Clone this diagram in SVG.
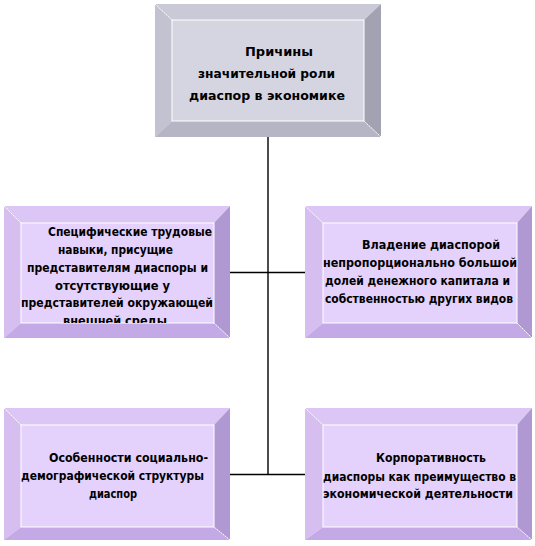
<svg xmlns="http://www.w3.org/2000/svg" width="535" height="546" viewBox="0 0 535 546">
<style>
  .t { font-family: "DejaVu Sans Condensed", "DejaVu Sans", sans-serif; font-weight: bold; font-size: 12px; fill: #000; }
  .tt { font-size: 13px; }
  .g-top .bt { fill: #c9c9d7; } .g-top .bl { fill: #c2c2d0; } .g-top .br { fill: #a2a2b2; } .g-top .bb { fill: #b5b5c5; } .g-top .face { fill: #d5d5e1; }
  .p .bt { fill: #dcc6f5; } .p .bl { fill: #d6bef0; } .p .br { fill: #b099d2; } .p .bb { fill: #c3a9e6; } .p .face { fill: #e4d1fc; }
  .face { stroke: #ffffff; stroke-width: 1; }
  .diag { stroke: #ffffff; stroke-width: 1; stroke-dasharray: 1.5 1; }
  .conn line { stroke: #000; stroke-width: 1.4; }
</style>
<defs>
  <clipPath id="clipL"><rect x="21" y="223" width="193" height="100"/></clipPath>
</defs>
<rect width="535" height="546" fill="#ffffff"/>

<g id="connectors" class="conn">
  <line x1="268" y1="137" x2="268" y2="475"/>
  <line x1="230" y1="272.5" x2="305" y2="272.5"/>
  <line x1="230" y1="474.5" x2="305" y2="474.5"/>
</g>

<g id="node-main" class="g-top">
  <polygon class="bt" points="155,4 381,4 364,20 172,20"/>
  <polygon class="bl" points="155,4 172,20 172,121 155,137"/>
  <polygon class="br" points="381,4 381,137 364,121 364,20"/>
  <polygon class="bb" points="155,137 172,121 364,121 381,137"/>
  <rect class="face" x="172" y="20" width="192" height="101"/>
  <line class="diag" x1="155" y1="4" x2="172" y2="20"/>
  <line class="diag" x1="381" y1="137" x2="364" y2="121"/>
  <text class="t tt" x="245" y="56" textLength="68" lengthAdjust="spacingAndGlyphs">Причины</text>
  <text class="t tt" x="198" y="78" textLength="137" lengthAdjust="spacingAndGlyphs">значительной роли</text>
  <text class="t tt" x="189" y="100" textLength="156" lengthAdjust="spacingAndGlyphs">диаспор в экономике</text>
</g>

<g id="node-skills" class="p">
  <polygon class="bt" points="4,206 230,206 214,223 21,223"/>
  <polygon class="bl" points="4,206 21,223 21,323 4,338"/>
  <polygon class="br" points="230,206 230,338 214,323 214,223"/>
  <polygon class="bb" points="4,338 21,323 214,323 230,338"/>
  <rect class="face" x="21" y="223" width="193" height="100"/>
  <line class="diag" x1="4" y1="206" x2="21" y2="223"/>
  <line class="diag" x1="230" y1="338" x2="214" y2="323"/>
  <g clip-path="url(#clipL)">
    <text class="t" x="48" y="236" textLength="164" lengthAdjust="spacingAndGlyphs">Специфические трудовые</text>
    <text class="t" x="58" y="254" textLength="115" lengthAdjust="spacingAndGlyphs">навыки, присущие</text>
    <text class="t" x="27" y="272" textLength="181" lengthAdjust="spacingAndGlyphs">представителям диаспоры и</text>
    <text class="t" x="55" y="290" textLength="115" lengthAdjust="spacingAndGlyphs">отсутствующие у</text>
    <text class="t" x="21" y="307" textLength="192" lengthAdjust="spacingAndGlyphs">представителей окружающей</text>
    <text class="t" x="63" y="325" textLength="104" lengthAdjust="spacingAndGlyphs">внешней среды</text>
  </g>
</g>

<g id="node-capital" class="p">
  <polygon class="bt" points="305,206 532,206 517,223 323,223"/>
  <polygon class="bl" points="305,206 323,223 323,323 305,338"/>
  <polygon class="br" points="532,206 532,338 517,323 517,223"/>
  <polygon class="bb" points="305,338 323,323 517,323 532,338"/>
  <rect class="face" x="323" y="223" width="194" height="100"/>
  <line class="diag" x1="305" y1="206" x2="323" y2="223"/>
  <line class="diag" x1="532" y1="338" x2="517" y2="323"/>
  <text class="t" x="362" y="249" textLength="138" lengthAdjust="spacingAndGlyphs">Владение диаспорой</text>
  <text class="t" x="323" y="267" textLength="194" lengthAdjust="spacingAndGlyphs">непропорционально большой</text>
  <text class="t" x="325" y="285" textLength="185" lengthAdjust="spacingAndGlyphs">долей денежного капитала и</text>
  <text class="t" x="325" y="303" textLength="188" lengthAdjust="spacingAndGlyphs">собственностью других видов</text>
</g>

<g id="node-demography" class="p">
  <polygon class="bt" points="4,408 230,408 214,425 21,425"/>
  <polygon class="bl" points="4,408 21,425 21,527 4,540"/>
  <polygon class="br" points="230,408 230,540 214,527 214,425"/>
  <polygon class="bb" points="4,540 21,527 214,527 230,540"/>
  <rect class="face" x="21" y="425" width="193" height="102"/>
  <line class="diag" x1="4" y1="408" x2="21" y2="425"/>
  <line class="diag" x1="230" y1="540" x2="214" y2="527"/>
  <text class="t" x="49" y="462" textLength="159" lengthAdjust="spacingAndGlyphs">Особенности социально-</text>
  <text class="t" x="21" y="480" textLength="183" lengthAdjust="spacingAndGlyphs">демографической структуры</text>
  <text class="t" x="89" y="498" textLength="48" lengthAdjust="spacingAndGlyphs">диаспор</text>
</g>

<g id="node-corporate" class="p">
  <polygon class="bt" points="305,408 532,408 517,425 323,425"/>
  <polygon class="bl" points="305,408 323,425 323,527 305,540"/>
  <polygon class="br" points="532,408 532,540 517,527 517,425"/>
  <polygon class="bb" points="305,540 323,527 517,527 532,540"/>
  <rect class="face" x="323" y="425" width="194" height="102"/>
  <line class="diag" x1="305" y1="408" x2="323" y2="425"/>
  <line class="diag" x1="532" y1="540" x2="517" y2="527"/>
  <text class="t" x="376" y="462" textLength="110" lengthAdjust="spacingAndGlyphs">Корпоративность</text>
  <text class="t" x="323" y="481" textLength="193" lengthAdjust="spacingAndGlyphs">диаспоры как преимущество в</text>
  <text class="t" x="323" y="498" textLength="190" lengthAdjust="spacingAndGlyphs">экономической деятельности</text>
</g>
</svg>
